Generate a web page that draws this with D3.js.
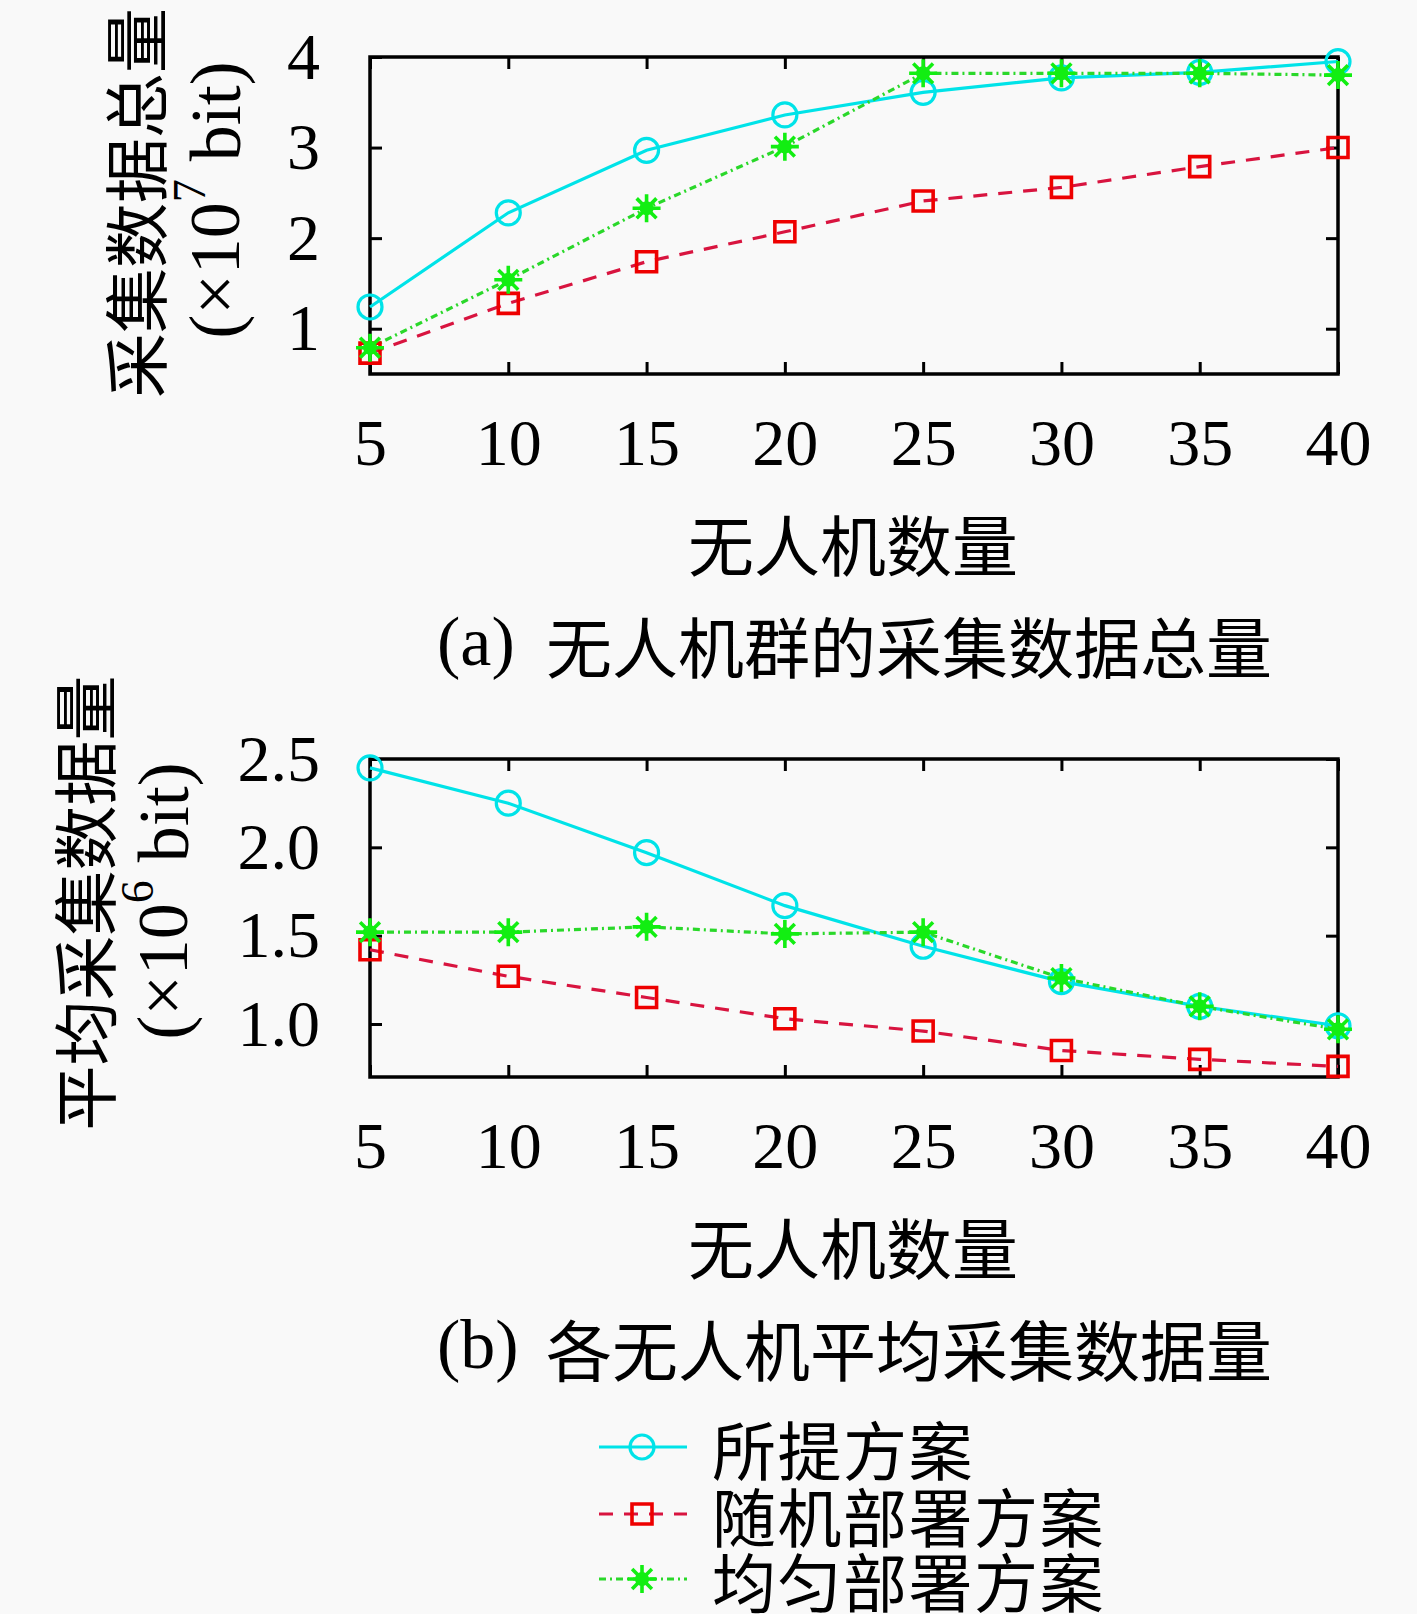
<!DOCTYPE html>
<html>
<head>
<meta charset="utf-8">
<script src="https://cdn.jsdelivr.net/npm/d3@7"></script>
<style>
  html, body { margin: 0; padding: 0; background: #f9f9f9; }
  svg { display: block; }
</style>
</head>
<body>
<svg id="chart" width="1417" height="1614"></svg>
<script>
// ---------------- data ----------------
const uavCounts = [5, 10, 15, 20, 25, 30, 35, 40];
const xTickValues = [5, 10, 15, 20, 25, 30, 35, 40];

// (a) total collected data (×10^7 bit)
const totalProposed = [1.24, 2.28, 2.97, 3.36, 3.61, 3.77, 3.83, 3.95];
const totalRandom   = [0.73, 1.28, 1.74, 2.07, 2.41, 2.56, 2.79, 3.00];
const totalUniform  = [0.79, 1.54, 2.33, 3.01, 3.82, 3.82, 3.82, 3.80];
const yTicksA = [1, 2, 3, 4];

// (b) average collected data per UAV (×10^6 bit)
const avgProposed = [2.45, 2.25, 1.97, 1.67, 1.44, 1.24, 1.10, 0.99];
const avgRandom   = [1.42, 1.27, 1.15, 1.03, 0.96, 0.85, 0.80, 0.76];
const avgUniform  = [1.52, 1.52, 1.55, 1.51, 1.52, 1.26, 1.10, 0.97];
const yTicksB = [1.0, 1.5, 2.0, 2.5];

const seriesNames = ["所提方案", "随机部署方案", "均匀部署方案"];

// ---------------- styles ----------------
const LATIN = "'Liberation Serif', 'DejaVu Serif', serif";
const CJK = "'Noto Sans CJK SC', 'Noto Sans CJK JP', sans-serif";
const styles = [
  { line: "#00e3e8", marker: "#00e3e8", dash: null, type: "circle" },
  { line: "#d8143f", marker: "#ee0000", dash: "14,11", type: "square" },
  { line: "#2ad82a", marker: "#12ee12", dash: "7,4,2,4", type: "star" }
];

const svg = d3.select("#chart");
svg.append("rect").attr("width", 1417).attr("height", 1614).attr("fill", "#f9f9f9");

const x = d3.scaleLinear().domain([5, 40]).range([370, 1338]);

const star8 = {
  draw(ctx, size) {
    const r = Math.sqrt(size) / 2;
    for (let i = 0; i < 4; i++) {
      const a = i * Math.PI / 4;
      ctx.moveTo(-r * Math.cos(a), -r * Math.sin(a));
      ctx.lineTo(r * Math.cos(a), r * Math.sin(a));
    }
  }
};

function drawMarker(g, type, cx, cy, color) {
  if (type === "circle") {
    g.append("circle").attr("cx", cx).attr("cy", cy).attr("r", 12)
      .attr("fill", "none").attr("stroke", color).attr("stroke-width", 3.2);
  } else if (type === "square") {
    g.append("path").attr("transform", `translate(${cx},${cy})`)
      .attr("d", d3.symbol(d3.symbolSquare, 20 * 20)())
      .attr("fill", "none").attr("stroke", color).attr("stroke-width", 3.6);
  } else {
    g.append("path").attr("transform", `translate(${cx},${cy})`)
      .attr("d", d3.symbol(star8, 28 * 28)())
      .attr("fill", "none").attr("stroke", color).attr("stroke-width", 3.6);
    g.append("circle").attr("cx", cx).attr("cy", cy).attr("r", 7).attr("fill", color);
  }
}

function drawPanel(opts) {
  const { y, yTicks, fmt, data, labelLines, caption } = opts;
  const g = svg.append("g");
  const [y0, y1] = y.range(); // bottom, top
  const [xl, xr] = x.range();

  // frame
  g.append("rect").attr("x", xl).attr("y", y1).attr("width", xr - xl).attr("height", y0 - y1)
    .attr("fill", "none").attr("stroke", "#000").attr("stroke-width", 3.5);

  const styleAxis = sel => {
    sel.select(".domain").remove();
    sel.selectAll(".tick line").attr("stroke", "#000").attr("stroke-width", 3);
    sel.selectAll(".tick text").attr("font-family", LATIN).attr("font-size", 66).attr("fill", "#000");
  };

  g.append("g").attr("transform", `translate(0,${y0})`)
    .call(d3.axisBottom(x).tickValues(xTickValues).tickSizeInner(-12).tickSizeOuter(0).tickPadding(44).tickFormat(d3.format("d")))
    .call(styleAxis);
  g.append("g").attr("transform", `translate(0,${y1})`)
    .call(d3.axisTop(x).tickValues(xTickValues).tickSizeInner(-12).tickSizeOuter(0).tickFormat(""))
    .call(styleAxis);
  g.append("g").attr("transform", `translate(${xl},0)`)
    .call(d3.axisLeft(y).tickValues(yTicks).tickSizeInner(-12).tickSizeOuter(0).tickPadding(50).tickFormat(d3.format(fmt)))
    .call(styleAxis);
  g.append("g").attr("transform", `translate(${xr},0)`)
    .call(d3.axisRight(y).tickValues(yTicks).tickSizeInner(-12).tickSizeOuter(0).tickFormat(""))
    .call(styleAxis);

  // lines
  const line = d3.line().x((d, i) => x(uavCounts[i])).y(d => y(d));
  data.forEach((vals, si) => {
    const st = styles[si];
    g.append("path").datum(vals).attr("d", line)
      .attr("fill", "none").attr("stroke", st.line).attr("stroke-width", 3.2)
      .attr("stroke-dasharray", st.dash);
  });
  // markers
  data.forEach((vals, si) => {
    const st = styles[si];
    vals.forEach((v, i) => drawMarker(g, st.type, x(uavCounts[i]), y(v), st.marker));
  });

  // y-axis label (two rotated lines)
  const l1 = labelLines[0];
  g.append("text").attr("transform", `translate(${l1.x},${l1.y}) rotate(-90)`)
    .attr("text-anchor", "middle").attr("dominant-baseline", "central")
    .attr("font-family", CJK).attr("font-size", 65).attr("fill", "#000")
    .text(l1.text);
  const l2 = labelLines[1];
  const t2 = g.append("text").attr("transform", `translate(${l2.x},${l2.y}) rotate(-90)`)
    .attr("text-anchor", "middle").attr("dy", "0.27em")
    .attr("font-family", LATIN).attr("font-size", 72).attr("fill", "#000");
  t2.append("tspan").text("(×10");
  t2.append("tspan").attr("font-size", 46).attr("dy", "-0.75em").text(l2.exp);
  t2.append("tspan").attr("dy", "0.48em").text(" bit)");

  // x-axis label
  g.append("text").attr("x", 853).attr("y", y0 + 168)
    .attr("text-anchor", "middle").attr("dominant-baseline", "central")
    .attr("font-family", CJK).attr("font-size", 66).attr("fill", "#000")
    .text("无人机数量");

  // caption
  const cy = y0 + 270;
  g.append("text").attr("x", 437).attr("y", cy).attr("dy", "0.3em")
    .attr("font-family", LATIN).attr("font-size", 70).attr("fill", "#000")
    .text(caption.tag);
  g.append("text").attr("x", 546).attr("y", cy).attr("dominant-baseline", "central")
    .attr("font-family", CJK).attr("font-size", 66).attr("fill", "#000")
    .text(caption.text);
}

drawPanel({
  y: d3.scaleLinear().domain([0.5, 4]).range([374, 57]),
  yTicks: yTicksA, fmt: "d",
  data: [totalProposed, totalRandom, totalUniform],
  labelLines: [{ x: 133, y: 203, text: "采集数据总量" }, { x: 220, y: 200, exp: "7" }],
  caption: { tag: "(a)", text: "无人机群的采集数据总量" }
});

drawPanel({
  y: d3.scaleLinear().domain([0.7, 2.5]).range([1077, 759]),
  yTicks: yTicksB, fmt: ".1f",
  data: [avgProposed, avgRandom, avgUniform],
  labelLines: [{ x: 82, y: 903, text: "平均采集数据量" }, { x: 168, y: 901, exp: "6" }],
  caption: { tag: "(b)", text: "各无人机平均采集数据量" }
});

// ---------------- legend ----------------
const legendRows = [1447, 1514, 1579];
const lg = svg.append("g");
seriesNames.forEach((name, i) => {
  const st = styles[i];
  const ly = legendRows[i];
  lg.append("line").attr("x1", 599).attr("x2", 687).attr("y1", ly).attr("y2", ly)
    .attr("stroke", st.line).attr("stroke-width", 3.2).attr("stroke-dasharray", st.dash);
  drawMarker(lg, st.type, 642, ly, st.marker);
  lg.append("text").attr("x", 712).attr("y", ly).attr("dominant-baseline", "central")
    .attr("font-family", CJK).attr("font-size", 64).attr("letter-spacing", 1.5).attr("fill", "#000")
    .text(name);
});
</script>
</body>
</html>
